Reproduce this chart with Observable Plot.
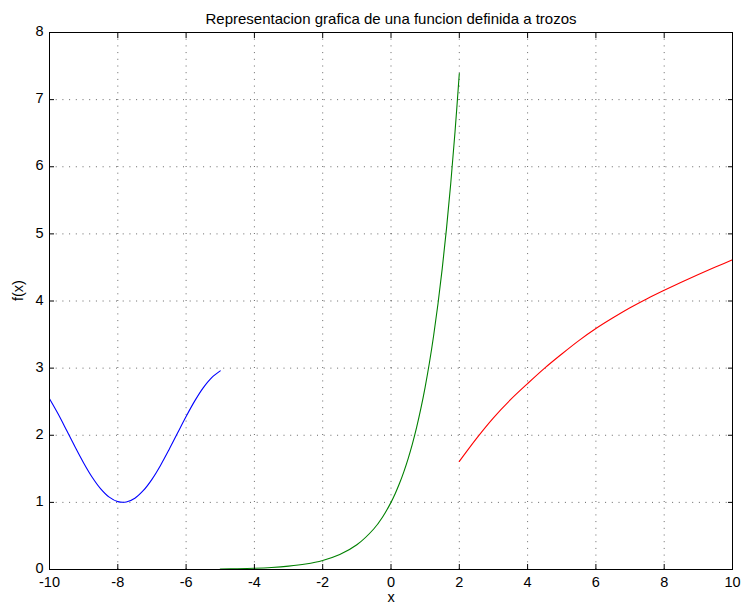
<!DOCTYPE html>
<html>
<head>
<meta charset="utf-8">
<script src="https://cdn.jsdelivr.net/npm/d3@7"></script>
<script src="https://cdn.jsdelivr.net/npm/@observablehq/plot@0.6"></script>
<style>
  html, body { margin: 0; padding: 0; background: #fff; }
</style>
</head>
<body>
<div id="chart"></div>
<script>
const titleText = "Representacion grafica de una funcion definida a trozos";
const xLabel = "x";
const yLabel = "f(x)";
const xTicks = [-10, -8, -6, -4, -2, 0, 2, 4, 6, 8, 10];
const yTicks = [0, 1, 2, 3, 4, 5, 6, 7, 8];

// Blue piece (x from -10 to -5)
const blueX = [-10, -9.75, -9.5, -9.25, -9, -8.75, -8.5, -8.25, -8, -7.75, -7.5, -7.25, -7, -6.75, -6.5, -6.25, -6, -5.75, -5.5, -5.25, -5];
const blueY = [2.544, 2.32, 2.075, 1.826, 1.588, 1.375, 1.202, 1.078, 1.011, 1.006, 1.062, 1.177, 1.343, 1.55, 1.785, 2.033, 2.279, 2.508, 2.706, 2.859, 2.959];

// Green piece (x from -5 to 2)
const greenX = [-5, -4.5, -4, -3.5, -3, -2.5, -2, -1.5, -1, -0.5, -0.25, 0, 0.125, 0.25, 0.375, 0.5, 0.625, 0.75, 0.875, 1, 1.125, 1.25, 1.375, 1.5, 1.625, 1.75, 1.875, 2];
const greenY = [0.007, 0.011, 0.018, 0.03, 0.05, 0.082, 0.135, 0.223, 0.368, 0.607, 0.779, 1.0, 1.133, 1.284, 1.455, 1.649, 1.868, 2.117, 2.399, 2.718, 3.08, 3.49, 3.955, 4.482, 5.078, 5.755, 6.521, 7.389];

// Red piece (x from 2 to 10)
const redX = [2, 2.5, 3, 3.5, 4, 4.5, 5, 5.5, 6, 6.5, 7, 7.5, 8, 8.5, 9, 9.5, 10];
const redY = [1.61, 1.95, 2.26, 2.53, 2.77, 3.0, 3.21, 3.41, 3.59, 3.75, 3.9, 4.035, 4.16, 4.28, 4.395, 4.505, 4.615];

const toRows = (xs, ys) => xs.map((x, i) => ({x, y: ys[i]}));
const blue = toRows(blueX, blueY);
const green = toRows(greenX, greenY);
const red = toRows(redX, redY);

const gridStyle = {stroke: "#000", strokeOpacity: 0.6, strokeDasharray: "1,5.7", strokeWidth: 1};
const plainFormat = d => String(d);

const chart = Plot.plot({
  width: 743,
  height: 610,
  marginLeft: 49,
  marginRight: 11,
  marginTop: 32,
  marginBottom: 41,
  style: {fontFamily: "'Liberation Sans', Arial, Helvetica, sans-serif", fontSize: "14.5px", background: "#fff", color: "#000"},
  x: {domain: [-10, 10]},
  y: {domain: [0, 8]},
  marks: [
    Plot.gridX(xTicks, gridStyle),
    Plot.gridY(yTicks, gridStyle),
    Plot.line(blue, {x: "x", y: "y", stroke: "#0000ff", strokeWidth: 1.1, curve: "catmull-rom"}),
    Plot.line(green, {x: "x", y: "y", stroke: "#008000", strokeWidth: 1.1, curve: "catmull-rom"}),
    Plot.line(red, {x: "x", y: "y", stroke: "#ff0000", strokeWidth: 1.1, curve: "monotone-x"}),
    // inward tick marks on all four sides
    Plot.axisX(xTicks, {anchor: "bottom", tickSize: 5, dy: -5, fill: "none", label: null}),
    Plot.axisX(xTicks, {anchor: "top", tickSize: 5, dy: 5, fill: "none", label: null}),
    Plot.axisY(yTicks, {anchor: "left", tickSize: 5, dx: 5, fill: "none", label: null}),
    Plot.axisY(yTicks, {anchor: "right", tickSize: 5, dx: -5, fill: "none", label: null}),
    // tick labels
    Plot.axisX(xTicks, {anchor: "bottom", tickSize: 0, tickPadding: 7, label: null, fontSize: 14.5, tickFormat: plainFormat}),
    Plot.axisY(yTicks, {anchor: "left", tickSize: 0, tickPadding: 6, label: null, fontSize: 14.5, tickFormat: plainFormat, dy: -1}),
    Plot.frame({stroke: "#000", strokeWidth: 1}),
    Plot.text([titleText], {frameAnchor: "top", dy: -19.5, fontSize: 15, fill: "#000"}),
    Plot.text([xLabel], {frameAnchor: "bottom", dy: 32, fontSize: 14.5, fill: "#000"}),
    Plot.text([yLabel], {frameAnchor: "left", dx: -31.5, rotate: -90, fontSize: 14.5, fill: "#000"})
  ]
});
document.getElementById("chart").appendChild(chart);
</script>
</body>
</html>
